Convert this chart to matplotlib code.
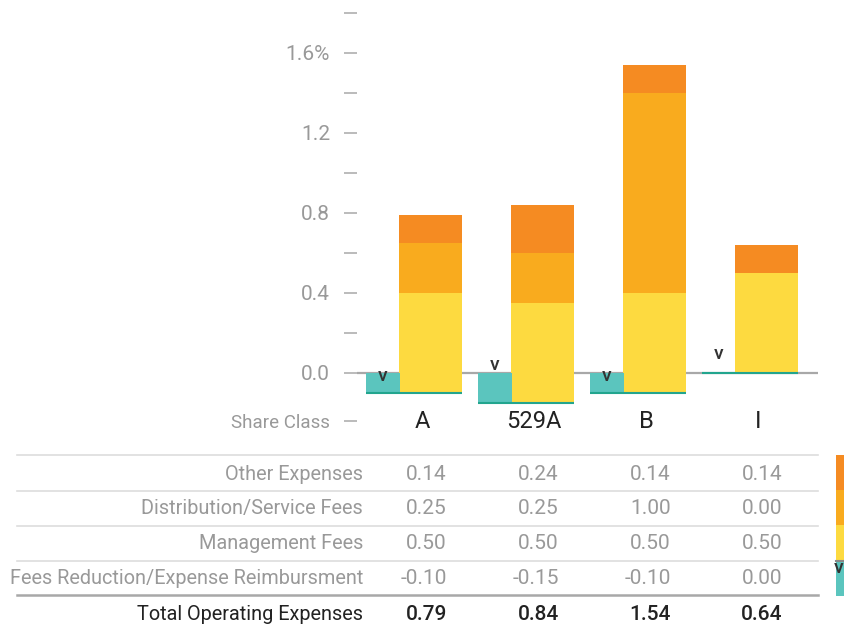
import matplotlib
matplotlib.use("Agg")
import matplotlib.pyplot as plt
from matplotlib.patches import Rectangle
from matplotlib.lines import Line2D
from matplotlib.transforms import blended_transform_factory

plt.rcParams['font.family'] = ['Roboto', 'DejaVu Sans']

# ---- data ----
share_classes = ["A", "529A", "B", "I"]
other_expenses = [0.14, 0.24, 0.14, 0.14]
distribution_fees = [0.25, 0.25, 1.00, 0.00]
management_fees = [0.50, 0.50, 0.50, 0.50]
fee_reduction = [-0.10, -0.15, -0.10, 0.00]
total_expenses = [0.79, 0.84, 1.54, 0.64]

row_labels = ["Other Expenses", "Distribution/Service Fees",
              "Management Fees", "Fees Reduction/Expense Reimbursment"]
total_label = "Total Operating Expenses"
y_ticks = [0.0, 0.2, 0.4, 0.6, 0.8, 1.0, 1.2, 1.4, 1.6, 1.8]
y_tick_labels = ["0.0", "", "0.4", "", "0.8", "", "1.2", "", "1.6%", ""]

# ---- style ----
C_OTHER = "#F58B22"
C_DIST = "#F9AB1E"
C_MGMT = "#FDDA40"
C_RED = "#5BC5BE"
C_RED_LINE = "#22A58E"
GRAY = "#A8A8A8"
TXT_GRAY = "#999999"
W, H = 845, 627


def fx(px):
    return px / W


def fy(py):
    return 1 - py / H


fig = plt.figure(figsize=(W / 100, H / 100), dpi=100)
ax = fig.add_axes([fx(357), fy(433), fx(818) - fx(357), (433 - 3) / H])
ax.set_xlim(-0.5804, 3.5357)
ax.set_ylim(-0.30, 1.85)
for s in ax.spines.values():
    s.set_visible(False)

# zero line
ax.axhline(0, color=GRAY, lw=1.6, zorder=1)

main_off, main_w = 0.08, 0.5625
red_off, red_w = -0.35, 0.3036
x = list(range(len(share_classes)))

for i in x:
    base = fee_reduction[i]
    m, d, o = management_fees[i], distribution_fees[i], other_expenses[i]
    xc = i + main_off
    ax.bar(xc, m, main_w, bottom=base, color=C_MGMT, zorder=2, linewidth=0)
    ax.bar(xc, d, main_w, bottom=base + m, color=C_DIST, zorder=2, linewidth=0)
    ax.bar(xc, o, main_w, bottom=base + m + d, color=C_OTHER, zorder=2, linewidth=0)
    # reduction bar
    ax.bar(i + red_off, fee_reduction[i], red_w, bottom=0, color=C_RED,
           zorder=2, linewidth=0)
    ax.plot([i + red_off - red_w / 2, xc + main_w / 2], [base, base],
            color=C_RED_LINE, lw=1.5, zorder=3, solid_capstyle='butt')

# "v" markers on the reduction bars (vertical offsets in points)
v_offsets = [-2.0, 6, -2.0, 13.5]
for i in x:
    ax.annotate("v", (i + red_off, 0), xytext=(0, v_offsets[i]),
                textcoords="offset points", ha="center", va="center",
                fontsize=14, color="#333333", fontweight="medium", zorder=4)

# y axis ticks
ax.set_yticks(y_ticks + [-0.24])
ax.set_yticklabels(y_tick_labels + ["Share Class"])
ax.tick_params(axis='y', length=9.4, width=1.1, color=GRAY, pad=10,
               labelcolor=TXT_GRAY, labelsize=15)
for lbl in ax.get_yticklabels():
    if lbl.get_text() == "Share Class":
        lbl.set_fontsize(13.5)
ax.set_xticks([])

for i, name in enumerate(share_classes):
    ax.text(i, -0.24, name, ha="center", va="center", fontsize=17,
            color="#222222")

# ---- table ----
tr = blended_transform_factory(ax.transData, fig.transFigure)
row_y = [474.5, 508.5, 543.5, 578.5]
rows = [other_expenses, distribution_fees, management_fees, fee_reduction]
for lab, vals, ry in zip(row_labels, rows, row_y):
    fig.text(fx(363), fy(ry), lab, ha="right", va="center", fontsize=14.3,
             color=TXT_GRAY)
    for i, v in enumerate(vals):
        fig.text(i + 0.222, fy(ry), f"{v:.2f}", ha="right", va="center",
                 fontsize=15, color=TXT_GRAY, transform=tr)

fig.text(fx(363), fy(615), total_label, ha="right", va="center", fontsize=14.3,
         color="#222222")
for i, v in enumerate(total_expenses):
    fig.text(i + 0.222, fy(615), f"{v:.2f}", ha="right", va="center",
             fontsize=15, color="#222222", fontweight="medium", transform=tr)

for ly in [455, 490.5, 525.5, 560.5]:
    fig.add_artist(Line2D([fx(17), fx(818)], [fy(ly), fy(ly)], color="#DDDDDD",
                          lw=1.2))
fig.add_artist(Line2D([fx(17), fx(818)], [fy(594.5), fy(594.5)], color=GRAY,
                      lw=1.8))

# ---- colour key at the right edge ----
key_colors = [C_OTHER, C_DIST, C_MGMT, C_RED]
key_tops = [455, 490, 525, 561]
for c, t in zip(key_colors, key_tops):
    fig.add_artist(Rectangle((fx(836), fy(t + 34.5)), fx(20), 34.5 / H,
                             transform=fig.transFigure, color=c, lw=0))
fig.add_artist(Line2D([fx(836), fx(846)], [fy(560.5), fy(560.5)],
                      color="#888888", lw=1.5))
fig.text(fx(839), fy(568), "v", ha="center", va="center", fontsize=14,
         color="#333333", fontweight="medium")

fig.savefig("out.png", dpi=100)
